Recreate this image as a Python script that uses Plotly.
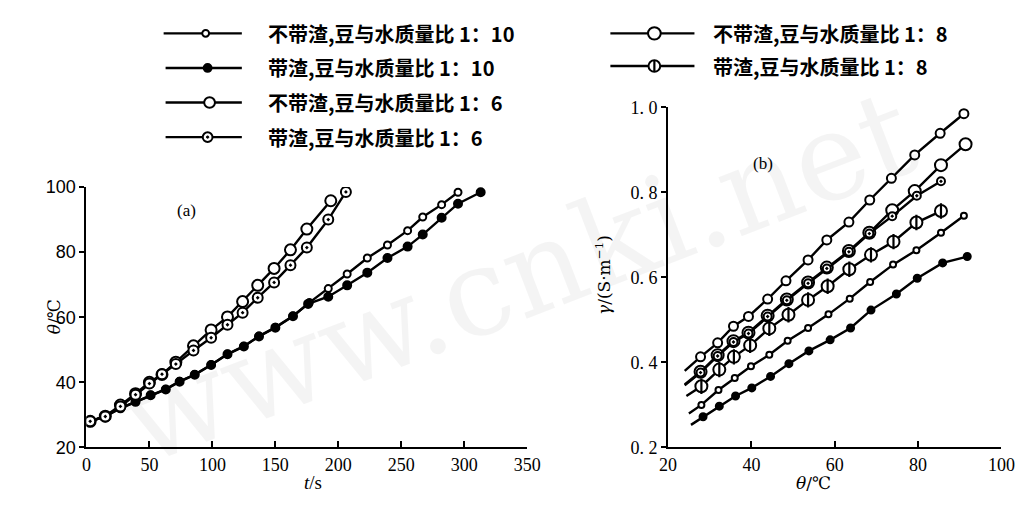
import plotly.graph_objects as go

W, H = 1025, 508

# ---------------- Panel (a): temperature vs time ----------------
t_nr10 = [3, 15, 27, 39, 51, 63, 74, 86, 99, 112, 125, 137, 150, 164, 177, 192, 207, 223, 239, 255, 267, 282, 295]
theta_nr10 = [28.1, 29.6, 32.1, 34.1, 36.1, 37.9, 40.3, 42.4, 45.4, 48.7, 51.1, 54.2, 56.9, 60.4, 64.5, 68.8, 73.3, 78.2, 82.2, 86.6, 90.8, 94.6, 98.4]

t_r10 = [3, 15, 27, 39, 51, 63, 74, 86, 99, 112, 125, 137, 150, 164, 176, 192, 207, 223, 239, 255, 267, 282, 295, 313]
theta_r10 = [28.0, 29.5, 32.0, 34.0, 36.0, 37.8, 40.2, 42.3, 45.3, 48.6, 51.0, 54.1, 56.8, 60.3, 64.1, 66.3, 69.8, 73.7, 78.2, 81.7, 85.4, 90.6, 94.9, 98.4]

t_nr6 = [3, 15, 27, 39, 50, 60, 71, 85, 99, 112, 124, 136, 149, 162, 175, 194]
theta_nr6 = [28.0, 29.6, 33.0, 36.5, 40.0, 42.4, 46.2, 51.2, 56.1, 60.1, 64.8, 69.8, 75.0, 80.7, 87.1, 95.8]

t_r6 = [3, 15, 27, 39, 50, 60, 71, 85, 99, 112, 124, 136, 149, 162, 175, 192, 206]
theta_r6 = [28.0, 29.5, 32.6, 36.2, 39.6, 42.5, 45.6, 49.8, 53.7, 57.7, 61.4, 66.0, 70.7, 76.0, 81.4, 90.0, 98.5]

a_xticks = [0, 50, 100, 150, 200, 250, 300, 350]
a_yticks = [20, 40, 60, 80, 100]

# ---------------- Panel (b): conductivity vs temperature ----------------
theta_b_nr6 = [27.8, 31.9, 35.7, 39.3, 43.9, 48.3, 53.6, 58.1, 63.4, 68.4, 73.6, 79.2, 85.3, 91.0]
gamma_b_nr6 = [0.413, 0.446, 0.485, 0.508, 0.549, 0.592, 0.641, 0.688, 0.730, 0.782, 0.833, 0.888, 0.939, 0.985]
start_b_nr6 = (24.0, 0.380)

theta_b_nr8 = [27.8, 31.9, 35.7, 39.3, 43.9, 48.5, 53.6, 58.1, 63.4, 68.3, 73.8, 79.2, 85.5, 91.4]
gamma_b_nr8 = [0.378, 0.417, 0.450, 0.470, 0.510, 0.548, 0.588, 0.623, 0.662, 0.705, 0.758, 0.803, 0.864, 0.913]
start_b_nr8 = (24.0, 0.348)

theta_b_r6 = [27.8, 31.9, 35.7, 39.3, 43.9, 48.5, 53.6, 58.1, 63.4, 68.3, 73.8, 79.7, 85.5]
gamma_b_r6 = [0.376, 0.415, 0.448, 0.468, 0.508, 0.546, 0.586, 0.621, 0.660, 0.703, 0.744, 0.792, 0.826]
start_b_r6 = (24.0, 0.346)

theta_b_r8 = [28.0, 32.3, 35.8, 39.7, 44.3, 48.9, 53.6, 58.3, 63.5, 68.7, 74.1, 79.6, 85.5]
gamma_b_r8 = [0.344, 0.383, 0.413, 0.440, 0.480, 0.512, 0.547, 0.579, 0.619, 0.653, 0.684, 0.729, 0.756]
start_b_r8 = (24.4, 0.321)

theta_b_nr10 = [28.0, 32.1, 36.0, 39.9, 44.3, 48.7, 53.6, 58.5, 63.6, 68.5, 74.0, 79.6, 85.5, 91.0]
gamma_b_nr10 = [0.300, 0.335, 0.363, 0.391, 0.418, 0.451, 0.481, 0.513, 0.550, 0.589, 0.630, 0.664, 0.705, 0.745]
start_b_nr10 = (25.0, 0.280)

theta_b_r10 = [28.4, 32.3, 36.2, 40.1, 44.6, 49.0, 53.8, 58.9, 63.8, 68.7, 74.8, 79.8, 85.9, 91.8]
gamma_b_r10 = [0.272, 0.297, 0.321, 0.340, 0.367, 0.397, 0.427, 0.453, 0.481, 0.523, 0.561, 0.598, 0.634, 0.649]
start_b_r10 = (25.5, 0.253)

b_xticks = [20, 40, 60, 80, 100]
b_yticks = [0.2, 0.4, 0.6, 0.8, 1.0]
b_yticktext = ["0. 2", "0. 4", "0. 6", "0. 8", "1. 0"]

legend_labels = [
    "不带渣,豆与水质量比 1：10",
    "带渣,豆与水质量比 1：10",
    "不带渣,豆与水质量比 1：6",
    "带渣,豆与水质量比 1：6",
    "不带渣,豆与水质量比 1：8",
    "带渣,豆与水质量比 1：8",
]

# ---------------- helpers ----------------
def px(xp):
    return xp / W

def py(yp):
    return 1 - yp / H

LW = 2.4
fig = go.Figure()

def add_series(x, y, xa, ya, size, symbol="circle", fill="white", lw=2.0, start=None):
    lx = ([start[0]] if start else []) + list(x)
    ly = ([start[1]] if start else []) + list(y)
    fig.add_trace(go.Scatter(x=lx, y=ly, mode="lines", xaxis=xa, yaxis=ya,
                             line=dict(color="black", width=LW), showlegend=False, hoverinfo="skip"))
    fig.add_trace(go.Scatter(x=x, y=y, mode="markers", xaxis=xa, yaxis=ya, showlegend=False,
                             marker=dict(symbol=symbol, size=size, color=fill,
                                         line=dict(color="black", width=lw))))

# Panel (a)
add_series(t_nr10, theta_nr10, "x", "y", 7)
add_series(t_r10, theta_r10, "x", "y", 8, fill="black")
add_series(t_nr6, theta_nr6, "x", "y", 11)
add_series(t_r6, theta_r6, "x", "y", 10, symbol="circle-dot")

# Panel (b)
add_series(theta_b_nr8, gamma_b_nr8, "x2", "y2", 12, start=start_b_nr8)
add_series(theta_b_r6, gamma_b_r6, "x2", "y2", 8, symbol="circle-dot", start=start_b_r6)
add_series(theta_b_nr6, gamma_b_nr6, "x2", "y2", 9, start=start_b_nr6)
add_series(theta_b_r8, gamma_b_r8, "x2", "y2", 12, start=start_b_r8)
fig.add_trace(go.Scatter(x=theta_b_r8, y=gamma_b_r8, mode="markers", xaxis="x2", yaxis="y2",
                         showlegend=False,
                         marker=dict(symbol="line-ns-open", size=11, color="black",
                                     line=dict(color="black", width=2.2))))
add_series(theta_b_nr10, gamma_b_nr10, "x2", "y2", 6, start=start_b_nr10)
add_series(theta_b_r10, gamma_b_r10, "x2", "y2", 7, fill="black", start=start_b_r10)

tick_font_a = dict(family="Liberation Sans", size=18, color="black")
tick_font_b = dict(family="Liberation Serif", size=18, color="black")

axis_common = dict(showline=True, linecolor="black", linewidth=2, showgrid=False,
                   zeroline=False, tickcolor="black", tickwidth=2, fixedrange=True)

fig.update_layout(
    width=W, height=H,
    margin=dict(l=0, r=0, t=0, b=0),
    paper_bgcolor="white", plot_bgcolor="rgba(0,0,0,0)",
    showlegend=False,
    xaxis=dict(domain=[px(71), px(522)], range=[0, 350], anchor="y",
               tickvals=a_xticks, ticks="inside", ticklen=6,
               tickfont=dict(family="Liberation Serif", size=18, color="black"),
               **axis_common),
    yaxis=dict(domain=[py(447), py(176)], range=[20, 100], anchor="x",
               tickvals=a_yticks, ticks="outside", ticklen=5,
               tickfont=tick_font_a, **axis_common),
    xaxis2=dict(domain=[px(666), px(1007)], range=[20, 100], anchor="y2",
                tickvals=b_xticks, ticks="inside", ticklen=6,
                tickfont=tick_font_b, **axis_common),
    yaxis2=dict(domain=[py(447), py(93)], range=[0.2, 1.0], anchor="x2",
                tickvals=b_yticks, ticktext=b_yticktext, ticks="outside", ticklen=5,
                tickfont=tick_font_b, **axis_common),
)

annotations = []
# watermark
annotations.append(dict(text="www.cnki.net", x=0.5, y=0.47, xref="paper", yref="paper",
                        showarrow=False, textangle=-21,
                        font=dict(family="DejaVu Serif", size=122, color="rgba(0,0,0,0.045)")))
# panel labels
annotations.append(dict(text="(a)", x=px(162), y=py(200), xref="paper", yref="paper", showarrow=False,
                        font=dict(family="Liberation Serif", size=17, color="black")))
annotations.append(dict(text="(b)", x=px(775), y=py(140), xref="paper", yref="paper", showarrow=False,
                        font=dict(family="Liberation Serif", size=17, color="black")))
# axis titles
annotations.append(dict(text="<i>t</i>/s", x=px(292), y=py(497), xref="paper", yref="paper", showarrow=False,
                        font=dict(family="Liberation Serif", size=19, color="black")))
annotations.append(dict(text="<i>θ</i>/℃", x=px(25), y=py(311), xref="paper", yref="paper", showarrow=False,
                        textangle=-90, font=dict(family="DejaVu Serif", size=17, color="black")))
annotations.append(dict(text="<i>θ</i>/℃", x=px(835), y=py(497), xref="paper", yref="paper", showarrow=False,
                        font=dict(family="DejaVu Serif", size=17, color="black")))
annotations.append(dict(text="<i>γ</i>/(S·m<sup>−1</sup>)", x=px(600), y=py(268), xref="paper", yref="paper",
                        showarrow=False, textangle=-90,
                        font=dict(family="DejaVu Serif", size=17, color="black")))

# legend (drawn manually)
shapes = []
leg_rows = [  # (line x0, line x1, marker x, row y, text x, label idx, style)
    (150, 230, 193, 16, 255, 0, "small_open"),
    (152, 230, 195, 52, 255, 1, "filled"),
    (152, 230, 197, 88, 255, 2, "open"),
    (152, 230, 195, 124, 255, 3, "dot"),
    (607, 693, 652, 16, 710, 4, "big_open"),
    (607, 693, 652, 50, 710, 5, "half"),
]

def circ(cx, cy, r, fill, lw=2):
    return dict(type="circle", xref="paper", yref="paper",
                x0=px(cx - r), x1=px(cx + r), y0=py(cy + r), y1=py(cy - r),
                fillcolor=fill, line=dict(color="black", width=lw), layer="above")

for x0, x1, mx, ry, tx, idx, style in leg_rows:
    shapes.append(dict(type="line", xref="paper", yref="paper", x0=px(x0), x1=px(x1),
                       y0=py(ry), y1=py(ry), line=dict(color="black", width=LW), layer="above"))
    if style == "small_open":
        shapes.append(circ(mx, ry, 3.5, "white"))
    elif style == "filled":
        shapes.append(circ(mx, ry, 4, "black"))
    elif style == "open":
        shapes.append(circ(mx, ry, 5.5, "white"))
    elif style == "dot":
        shapes.append(circ(mx, ry, 5, "white"))
        shapes.append(circ(mx, ry, 1.2, "black", 1))
    elif style == "big_open":
        shapes.append(circ(mx, ry, 6.5, "white"))
    elif style == "half":
        shapes.append(circ(mx, ry, 6, "white"))
        shapes.append(dict(type="line", xref="paper", yref="paper", x0=px(mx), x1=px(mx),
                           y0=py(ry - 6), y1=py(ry + 6), line=dict(color="black", width=2.2),
                           layer="above"))
    annotations.append(dict(text=legend_labels[idx], x=px(tx), y=py(ry), xref="paper", yref="paper",
                            xanchor="left", yanchor="middle", showarrow=False,
                            font=dict(family="Noto Sans CJK SC", size=20, color="black", weight="bold")))

fig.update_layout(annotations=annotations, shapes=shapes)

fig.write_html("out.html")
